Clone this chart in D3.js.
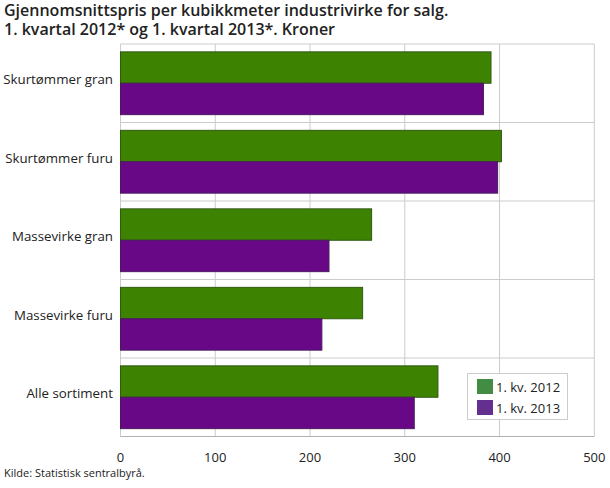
<!DOCTYPE html>
<html><head><meta charset="utf-8">
<script src="https://cdn.jsdelivr.net/npm/d3@7"></script>
<style>
body{margin:0;background:#fff;}
svg text{font-family:"Open Sans",sans-serif;}
</style></head>
<body><svg id="c" width="610" height="488"></svg>
<script>
const categories = ["Skurtømmer gran","Skurtømmer furu","Massevirke gran","Massevirke furu","Alle sortiment"];
const seriesNames = ["1. kv. 2012","1. kv. 2013"];
const values2012 = [391, 402, 265, 255.5, 335];
const values2013 = [383, 398, 220, 212.5, 310];
const xTicks = [0,100,200,300,400,500];
const barColors = ["#3d8200","#690886"];
const strokeColors = ["#2f5a14","#4a1a5e"];
const legendColors = ["#428c43","#63308f"];

const svg = d3.select("#c");
const m = {l:120.5, r:594.3, t:44, b:436.5};
const x = d3.scaleLinear().domain([0,500]).range([m.l,m.r]);
const y = d3.scaleBand().domain(categories).range([m.t,m.b]).padding(0);
const ys = d3.scaleBand().domain(seriesNames).range([0,y.bandwidth()]).paddingInner(0).paddingOuter(0.25);

// title
const titleLines = ["Gjennomsnittspris per kubikkmeter industrivirke for salg.","1. kvartal 2012* og 1. kvartal 2013*. Kroner"];
svg.append("g").selectAll("text").data(titleLines).join("text")
  .attr("x",4).attr("y",(d,i)=>15.5+i*19)
  .attr("fill","#222").style("font-size","16px").style("font-weight","600").text(d=>d);

// gridlines
const g = svg.append("g");
g.selectAll("line.v").data(xTicks).join("line")
  .attr("x1",d=>x(d)).attr("x2",d=>x(d)).attr("y1",m.t).attr("y2",m.b)
  .attr("stroke","#cccccc").attr("stroke-width",1);
const bounds = categories.map(c=>y(c));
g.selectAll("line.h").data(bounds).join("line")
  .attr("x1",m.l).attr("x2",m.r).attr("y1",d=>d).attr("y2",d=>d)
  .attr("stroke","#cccccc").attr("stroke-width",1);
g.append("line").attr("x1",m.l).attr("x2",m.r).attr("y1",m.b).attr("y2",m.b)
  .attr("stroke","#b0b0b0").attr("stroke-width",1.2);

// bars
const data = categories.map((c,i)=>({c, v:[values2012[i], values2013[i]]}));
const grp = svg.append("g").selectAll("g").data(data).join("g")
  .attr("transform",d=>`translate(0,${y(d.c)})`);
grp.selectAll("rect").data(d=>d.v.map((v,j)=>({v,j}))).join("rect")
  .attr("x",x(0)).attr("y",d=>ys(seriesNames[d.j]))
  .attr("width",d=>x(d.v)-x(0)).attr("height",ys.bandwidth())
  .attr("fill",d=>barColors[d.j]).attr("stroke",d=>strokeColors[d.j]).attr("stroke-width",1);

// category labels
svg.append("g").selectAll("text").data(categories).join("text")
  .attr("x",113).attr("y",d=>y(d)+y.bandwidth()/2+1)
  .attr("text-anchor","end").attr("fill","#222").style("font-size","13.3px").text(d=>d);

// x tick labels
svg.append("g").selectAll("text").data(xTicks).join("text")
  .attr("x",d=>x(d)).attr("y",461.5).attr("text-anchor","middle")
  .attr("fill","#222").style("font-size","13px").text(d=>d);

// legend
const lg = svg.append("g");
lg.append("rect").attr("x",467.5).attr("y",373.5).attr("width",100).attr("height",46)
  .attr("fill","#fff").attr("stroke","#cccccc");
seriesNames.forEach((s,i)=>{
  lg.append("rect").attr("x",477).attr("y",379+i*21).attr("width",16).attr("height",15).attr("fill",legendColors[i]);
  lg.append("text").attr("x",496).attr("y",392+i*21).attr("fill","#222").style("font-size","13px").text(s);
});

// source
svg.append("text").attr("x",4).attr("y",477).attr("fill","#222").style("font-size","11px").text("Kilde: Statistisk sentralbyrå.");
</script></body></html>
